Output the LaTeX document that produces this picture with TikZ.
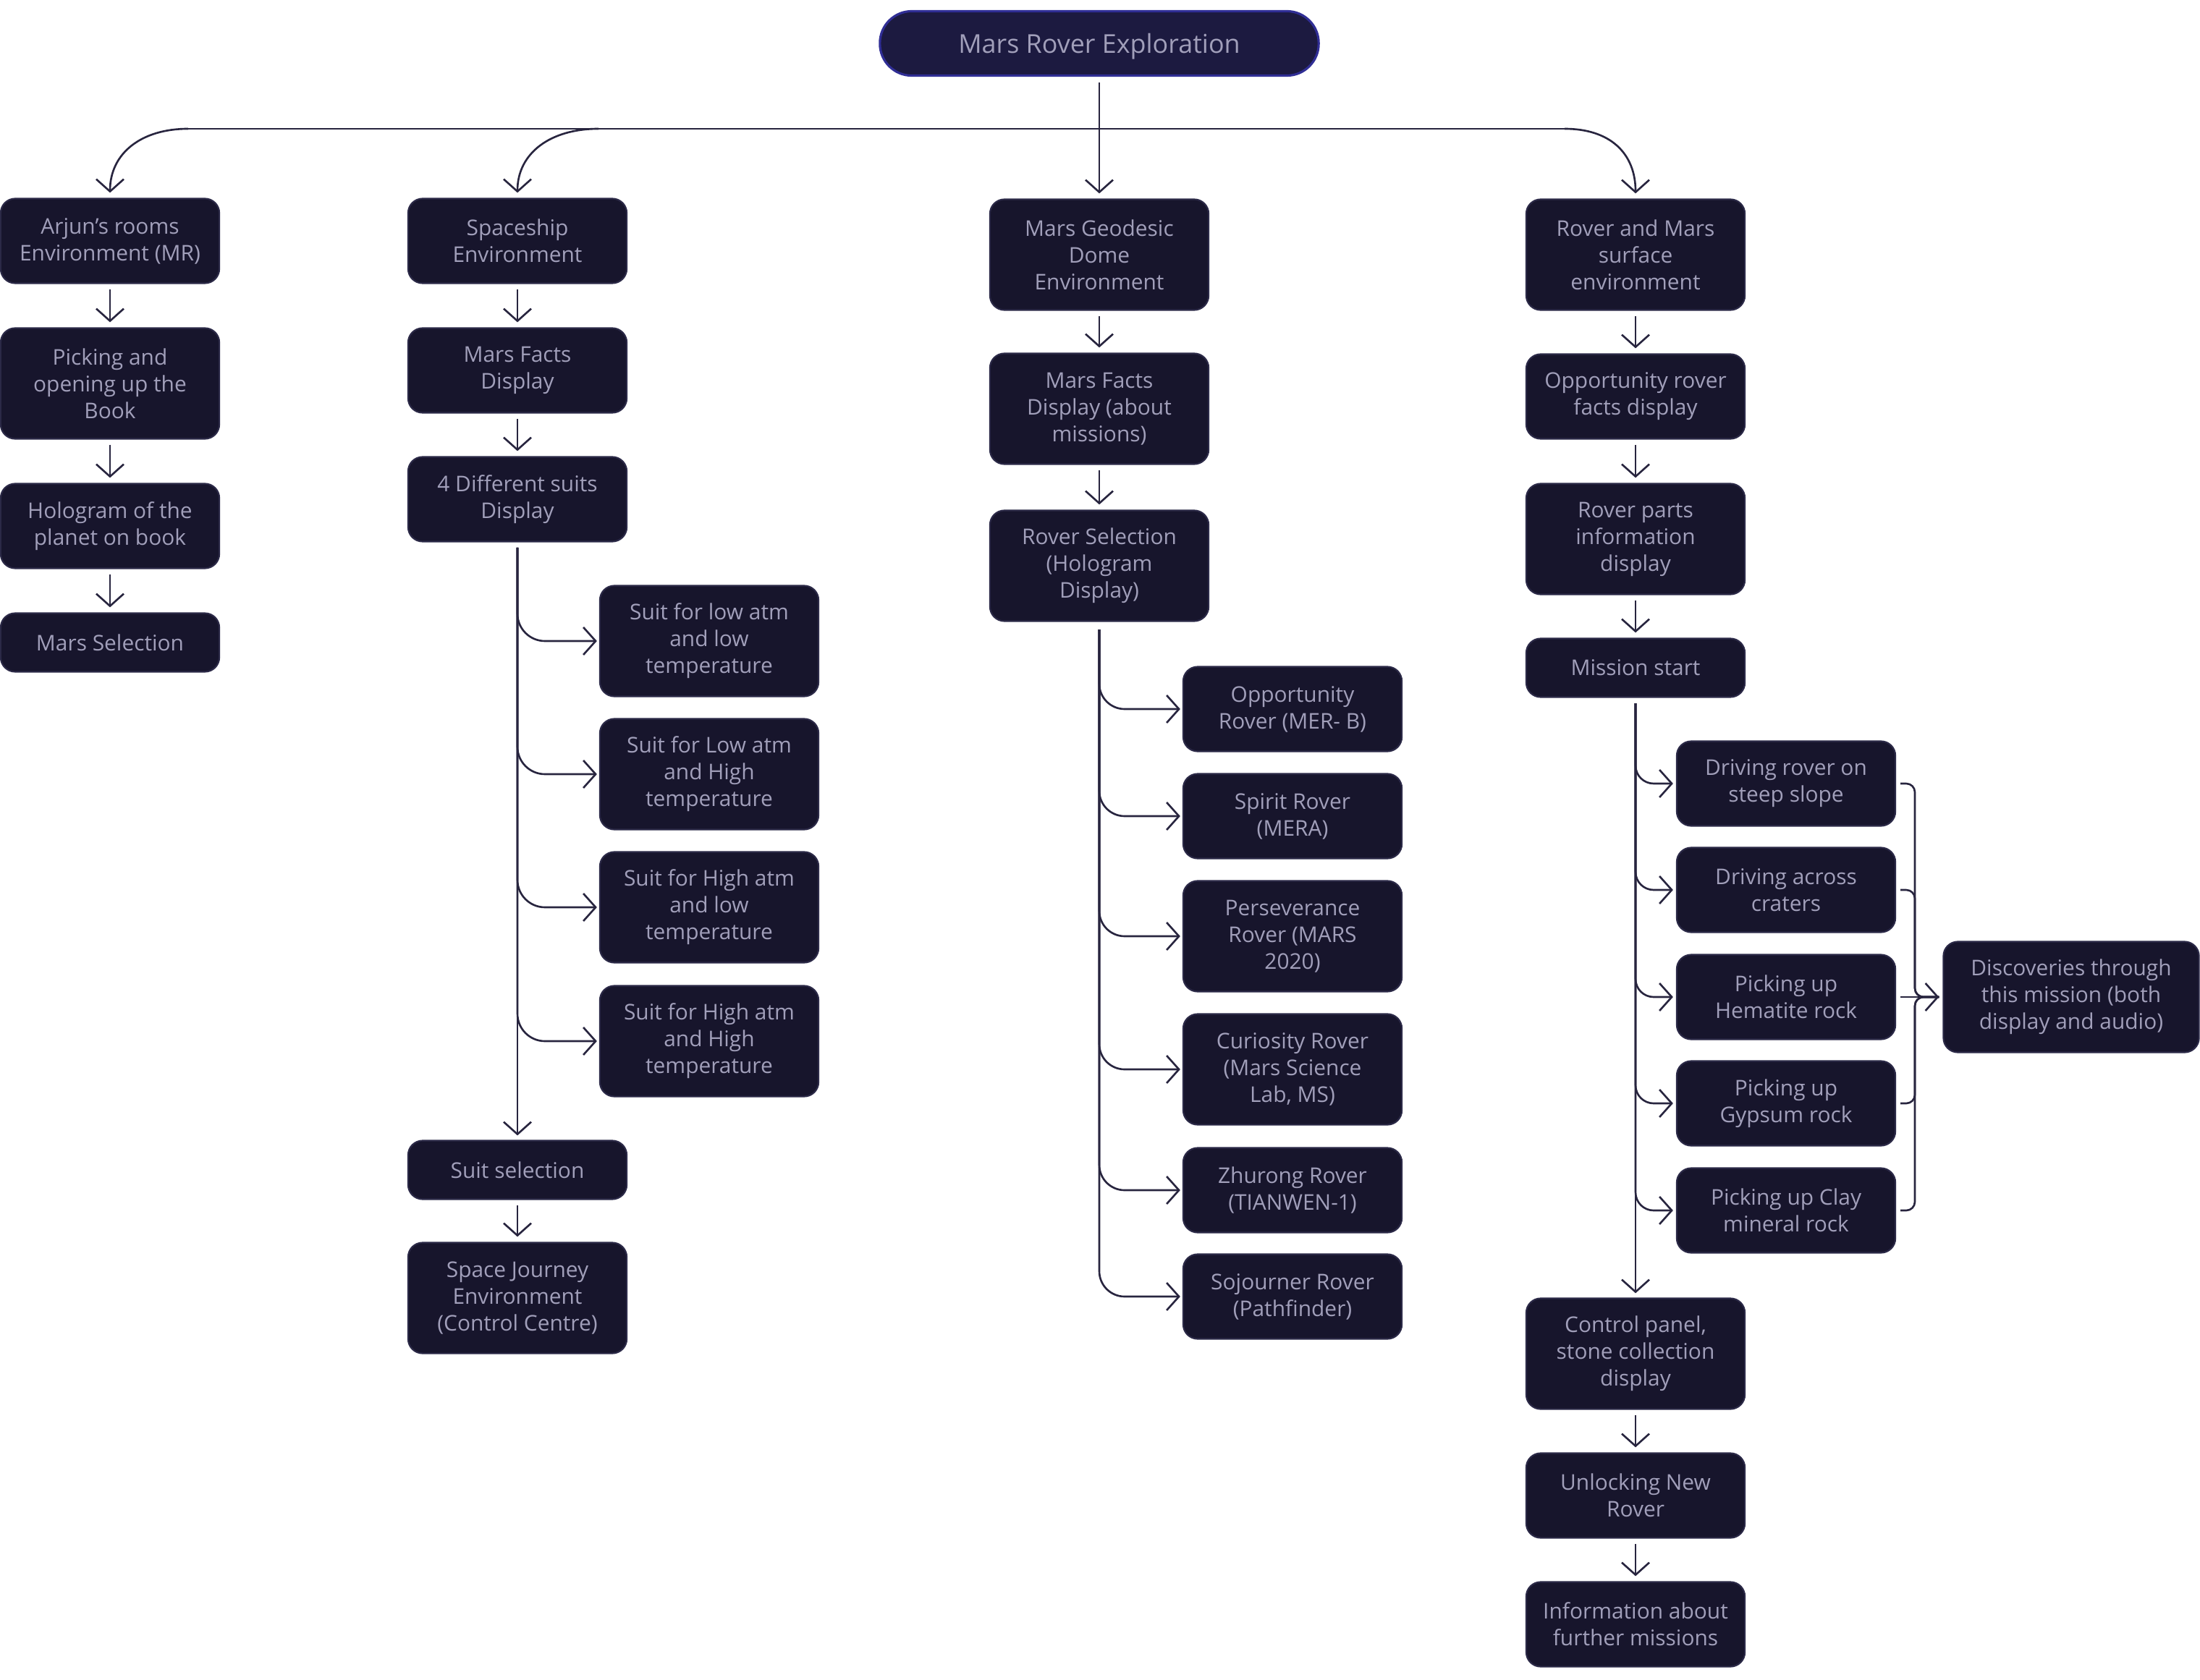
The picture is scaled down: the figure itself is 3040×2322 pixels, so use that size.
\documentclass[tikz,border=0pt]{standalone}
\usepackage{fontspec}
\setmainfont{Open Sans}
\usetikzlibrary{arrows.meta}
\definecolor{boxfill}{HTML}{17152C}
\definecolor{boxline}{HTML}{2B2947}
\definecolor{boxtext}{HTML}{A19FBA}
\definecolor{titlefill}{HTML}{1C1A40}
\definecolor{titleline}{HTML}{302E95}
\definecolor{conncol}{HTML}{28253F}
\tikzset{
  box/.style={draw=boxline, line width=0.6pt, fill=boxfill, text=boxtext,
    rounded corners=0.2cm, minimum width=3.02cm, inner sep=0pt, align=center,
    font=\fontsize{8.5pt}{10.5pt}\selectfont},
  hone/.style={minimum height=0.81cm},
  htwo/.style={minimum height=1.17cm},
  hthree/.style={minimum height=1.53cm},
  titlebox/.style={draw=titleline, line width=0.9pt, fill=titlefill, text=boxtext,
    rounded corners=0.44cm, minimum width=6.06cm, minimum height=0.89cm,
    inner sep=0pt, text depth=0pt,
    font=\fontsize{10.2pt}{12pt}\selectfont},
  conn/.style={draw=conncol, line width=0.75pt},
  arr/.style={conn, -{Straight Barb[length=0.17cm, width=0.38cm, line width=0.75pt]}},
}
\begin{document}
\begin{tikzpicture}[x=0.01cm, y=-0.01cm]
\useasboundingbox (0,0) rectangle (3040,2322);

% title
\node[titlebox] (t) at (1519,60) {Mars Rover Exploration};

% column 1
\node[box,htwo]   (a1) at (152,333) {Arjun’s rooms\\Environment (MR)};
\node[box,hthree] (a2) at (152,530) {Picking and\\opening up the\\Book};
\node[box,htwo]   (a3) at (152,727) {Hologram of the\\planet on book};
\node[box,hone]   (a4) at (152,888) {Mars Selection};

% column 2
\node[box,htwo]   (b1) at (715,333) {Spaceship\\Environment};
\node[box,htwo]   (b2) at (715,512) {Mars Facts\\Display};
\node[box,htwo]   (b3) at (715,690) {4 Different suits\\Display};
\node[box,hthree] (s1) at (980,886) {Suit for low atm\\and low\\temperature};
\node[box,hthree] (s2) at (980,1070) {Suit for Low atm\\and High\\temperature};
\node[box,hthree] (s3) at (980,1254) {Suit for High atm\\and low\\temperature};
\node[box,hthree] (s4) at (980,1439) {Suit for High atm\\and High\\temperature};
\node[box,hone]   (b4) at (715,1617) {Suit selection};
\node[box,hthree] (b5) at (715,1794) {Space Journey\\Environment\\(Control Centre)};

% column 3
\node[box,hthree] (c1) at (1519,352) {Mars Geodesic\\Dome\\Environment};
\node[box,hthree] (c2) at (1519,565) {Mars Facts\\Display (about\\missions)};
\node[box,hthree] (c3) at (1519,782) {Rover Selection\\(Hologram\\Display)};
\node[box,htwo]   (r1) at (1786,980) {Opportunity\\Rover (MER- B)};
\node[box,htwo]   (r2) at (1786,1128) {Spirit Rover\\(MERA)};
\node[box,hthree] (r3) at (1786,1294) {Perseverance\\Rover (MARS\\2020)};
\node[box,hthree] (r4) at (1786,1478) {Curiosity Rover\\(Mars Science\\Lab, MS)};
\node[box,htwo]   (r5) at (1786,1645) {Zhurong Rover\\(TIANWEN-1)};
\node[box,htwo]   (r6) at (1786,1792) {Sojourner Rover\\(Pathfinder)};

% column 4
\node[box,hthree] (d1) at (2260,352) {Rover and Mars\\surface\\environment};
\node[box,htwo]   (d2) at (2260,548) {Opportunity rover\\facts display};
\node[box,hthree] (d3) at (2260,745) {Rover parts\\information\\display};
\node[box,hone]   (d4) at (2260,923) {Mission start};
\node[box,htwo]   (m1) at (2468,1083) {Driving rover on\\steep slope};
\node[box,htwo]   (m2) at (2468,1230) {Driving across\\craters};
\node[box,htwo]   (m3) at (2468,1378) {Picking up\\Hematite rock};
\node[box,htwo]   (m4) at (2468,1525) {Picking up\\Gypsum rock};
\node[box,htwo]   (m5) at (2468,1673) {Picking up Clay\\mineral rock};
\node[box,hthree,minimum width=3.53cm] (dz) at (2862,1378) {Discoveries through\\this mission (both\\display and audio)};
\node[box,hthree] (d5) at (2260,1871) {Control panel,\\stone collection\\display};
\node[box,htwo]   (d6) at (2260,2067) {Unlocking New\\Rover};
\node[box,htwo]   (d7) at (2260,2245) {Information about\\further missions};

% top distribution
\coordinate (hl) at (260,178);
\coordinate (hr) at (2162,178);
\coordinate (h2) at (827,178);
\draw[conn] (hl) -- (hr);
\draw[arr] (hl) .. controls (195,178) and (152,212) .. ([yshift=0.07cm]a1.north);
\draw[arr] (h2) .. controls (760,178) and (715,212) .. ([yshift=0.07cm]b1.north);
\draw[arr] (hr) .. controls (2225,178) and (2260,212) .. ([yshift=0.07cm]d1.north);
\draw[arr] ([yshift=-0.08cm]t.south) -- ([yshift=0.07cm]c1.north);

% vertical chains
\foreach \u/\v in {a1/a2,a2/a3,a3/a4,b1/b2,b2/b3,b4/b5,c1/c2,c2/c3,d1/d2,d2/d3,d3/d4,d5/d6,d6/d7}
  \draw[arr, shorten <=0.07cm, shorten >=0.07cm] (\u.south) -- (\v.north);

% suits branch
\coordinate (bs) at (715,757);
\foreach \v in {s1,s2,s3,s4}
  \draw[arr, rounded corners=0.38cm, shorten >=0.03cm] (bs) |- (\v.west);
\draw[arr, shorten >=0.06cm] (bs) -- (b4.north);

% rovers branch
\coordinate (cs) at (1519,870);
\foreach \v in {r1,r2,r3,r4,r5,r6}
  \draw[arr, rounded corners=0.35cm, shorten >=0.03cm] (cs) |- (\v.west);

% missions branch
\coordinate (ds) at (2260,972);
\foreach \v in {m1,m2,m3,m4,m5}
  \draw[arr, rounded corners=0.25cm, shorten >=0.04cm] (ds) |- (\v.west);
\draw[arr, shorten >=0.06cm] (ds) -- (d5.north);

% bracket to discoveries
\coordinate (bx) at (2646,1378);
\foreach \v in {m1,m2,m4,m5}
  \draw[conn, rounded corners=0.12cm, shorten >=0.05cm] ([xshift=0.06cm]\v.east) -| (bx) -- (dz.west);
\draw[arr, shorten <=0.06cm, shorten >=0.05cm] (m3.east) -- (dz.west);
\end{tikzpicture}
\end{document}
